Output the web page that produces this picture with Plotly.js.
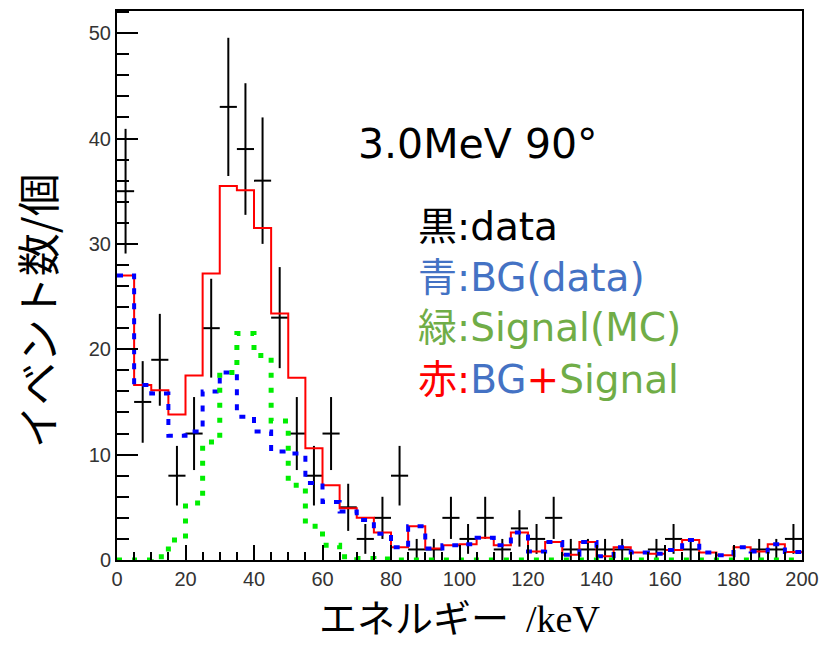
<!DOCTYPE html>
<html>
<head>
<meta charset="utf-8">
<script src="https://cdn.plot.ly/plotly-3.0.1.min.js"></script>
<style>
html, body { margin: 0; padding: 0; background: #ffffff; }
#chart { width: 821px; height: 648px; }
</style>
</head>
<body>
<div id="chart"></div>
<script>
// Energy bin centres (keV), bin width 5 keV
const binCenters = [2.5, 7.5, 12.5, 17.5, 22.5, 27.5, 32.5, 37.5, 42.5, 47.5,
  52.5, 57.5, 62.5, 67.5, 72.5, 77.5, 82.5, 87.5, 92.5, 97.5,
  102.5, 107.5, 112.5, 117.5, 122.5, 127.5, 132.5, 137.5, 142.5, 147.5,
  152.5, 157.5, 162.5, 167.5, 172.5, 177.5, 182.5, 187.5, 192.5, 197.5];
const binWidth = 5;

// 黒: data (event counts)
const dataCounts = [35, 15, 19, 8, 12, 22, 43, 39, 36, 23,
  12, 8, 12, 5, 2, 4, 8, 1, 1, 4,
  2, 4, 1, 3, 2, 4, 1, 1, 1, 1,
  0, 1, 2, 1, 0, 0, 0, 1, 1, 2];

// 青: BG(data)
const bgData = [27.0, 16.6, 15.8, 11.8, 12.2, 16.0, 17.8, 13.6, 12.2, 10.3,
  10.1, 7.3, 5.5, 4.6, 3.8, 2.5, 1.2, 3.2, 1.1, 1.4,
  1.5, 2.1, 1.4, 2.6, 0.8, 1.7, 0.5, 1.7, 0.35, 1.2,
  0.7, 0.6, 0.95, 1.9, 0.7, 0.45, 1.2, 0.8, 1.5, 0.75];

// 緑: Signal(MC)
const signalMC = [0, 0, 0.3, 1.9, 5.4, 11.2, 17.8, 21.5, 19.4, 13.2,
  7.1, 3.2, 1.4, 0.3, 0.15, 0.1, 0, 0, 0, 0,
  0, 0, 0, 0, 0, 0, 0, 0, 0, 0,
  0, 0, 0, 0, 0, 0, 0, 0, 0, 0];

// 赤: BG+Signal
const bgPlusSignal = [27.0, 16.6, 16.1, 13.8, 17.5, 27.2, 35.5, 35.1, 31.5, 23.4,
  17.3, 10.6, 7.1, 4.9, 4.0, 2.6, 1.2, 3.2, 1.1, 1.4,
  1.5, 2.1, 1.4, 2.6, 0.8, 1.7, 0.5, 1.7, 0.35, 1.2,
  0.7, 0.6, 0.95, 1.9, 0.7, 0.45, 1.2, 0.8, 1.5, 0.75];

const xTickVals = [0, 20, 40, 60, 80, 100, 120, 140, 160, 180, 200];
const yTickVals = [0, 10, 20, 30, 40, 50];

// step-histogram helpers (bin edges from centres)
const edges = binCenters.map(c => c - binWidth / 2).concat([binCenters[binCenters.length - 1] + binWidth / 2]);
const stepY = v => v.concat([v[v.length - 1]]);

const dataY = dataCounts.map(n => n > 0 ? n : null);
const dataErr = dataCounts.map(n => Math.sqrt(n));

const traces = [
  {
    type: 'scatter', mode: 'markers', name: 'data',
    x: binCenters, y: dataY,
    marker: { size: 1, color: '#000000' },
    error_y: { type: 'data', array: dataErr, visible: true, color: '#000000', thickness: 2, width: 0 },
    error_x: { type: 'constant', value: binWidth / 2, visible: true, color: '#000000', thickness: 2, width: 0 },
    hoverinfo: 'skip'
  },
  {
    type: 'scatter', mode: 'lines', name: 'BG+Signal',
    x: edges, y: stepY(bgPlusSignal),
    line: { shape: 'hv', color: '#ff0000', width: 2 }
  },
  {
    type: 'scatter', mode: 'lines', name: 'BG(data)',
    x: edges, y: stepY(bgData),
    line: { shape: 'hv', color: '#0000ff', width: 4, dash: '6px,9px' }
  },
  {
    type: 'scatter', mode: 'lines', name: 'Signal(MC)',
    x: edges, y: stepY(signalMC),
    line: { shape: 'hv', color: '#00ee00', width: 5, dash: '5px,10px' }
  }
];

const textFont = 'DejaVu Sans, Noto Sans CJK JP, sans-serif';
const cjkFont = 'Noto Sans CJK JP, sans-serif';
const blue = '#4472C4', green = '#70AD47', red = '#FF0000';

const layout = {
  width: 821, height: 648,
  margin: { l: 117, r: 19, t: 11, b: 88, pad: 0 },
  paper_bgcolor: '#ffffff', plot_bgcolor: '#ffffff',
  showlegend: false,
  xaxis: {
    range: [0, 200], tickvals: xTickVals, ticktext: xTickVals.map(String),
    ticks: 'inside', ticklen: 15, tickwidth: 2, tickcolor: '#000000',
    minor: { dtick: 5, ticks: 'inside', ticklen: 8, tickwidth: 2, tickcolor: '#000000' },
    showline: true, linecolor: '#000000', linewidth: 2, mirror: true,
    showgrid: false, zeroline: false,
    tickfont: { family: 'Liberation Sans, Arial, sans-serif', size: 20, color: '#333333' }
  },
  yaxis: {
    range: [0, 52.1], tickvals: yTickVals, ticktext: yTickVals.map(String),
    ticks: 'inside', ticklen: 21, tickwidth: 2, tickcolor: '#000000',
    minor: { dtick: 2, ticks: 'inside', ticklen: 12, tickwidth: 2, tickcolor: '#000000' },
    showline: true, linecolor: '#000000', linewidth: 2, mirror: true,
    showgrid: false, zeroline: false,
    tickfont: { family: 'Liberation Sans, Arial, sans-serif', size: 20, color: '#333333' }
  },
  annotations: [
    // axis titles
    { xref: 'paper', yref: 'paper', x: 0.5, y: -0.102, xanchor: 'center', yanchor: 'middle', showarrow: false,
      text: 'エネルギー\u00a0\u00a0<span style="font-family:\'Liberation Serif\',serif">/keV</span>',
      font: { family: cjkFont, size: 38, color: '#000000' } },
    { xref: 'paper', yref: 'paper', x: -0.118, y: 0.4536, xanchor: 'center', yanchor: 'middle', showarrow: false,
      textangle: -90, text: 'イベント数/個',
      font: { family: cjkFont, size: 43, color: '#000000' } },
    // in-plot labels
    { xref: 'paper', yref: 'paper', x: 0.349, y: 0.757, xanchor: 'left', yanchor: 'middle', showarrow: false,
      text: '3.0MeV 90°', font: { family: textFont, size: 41, color: '#000000' } },
    { xref: 'paper', yref: 'paper', x: 0.4365, y: 0.6075, xanchor: 'left', yanchor: 'middle', showarrow: false,
      text: '黒:data', font: { family: textFont, size: 39, color: '#000000' } },
    { xref: 'paper', yref: 'paper', x: 0.4365, y: 0.5137, xanchor: 'left', yanchor: 'middle', showarrow: false,
      text: '青:BG(data)', font: { family: textFont, size: 39, color: blue } },
    { xref: 'paper', yref: 'paper', x: 0.4365, y: 0.4226, xanchor: 'left', yanchor: 'middle', showarrow: false,
      text: '緑:Signal(MC)', font: { family: textFont, size: 39, color: green } },
    { xref: 'paper', yref: 'paper', x: 0.4365, y: 0.328, xanchor: 'left', yanchor: 'middle', showarrow: false,
      text: '<span style="color:' + red + '">赤:</span><span style="color:' + blue + '">BG</span><span style="color:' + red + '">+</span><span style="color:' + green + '">Signal</span>',
      font: { family: textFont, size: 39, color: red } }
  ]
};

Plotly.newPlot('chart', traces, layout, { displayModeBar: false, staticPlot: true });
</script>
</body>
</html>
